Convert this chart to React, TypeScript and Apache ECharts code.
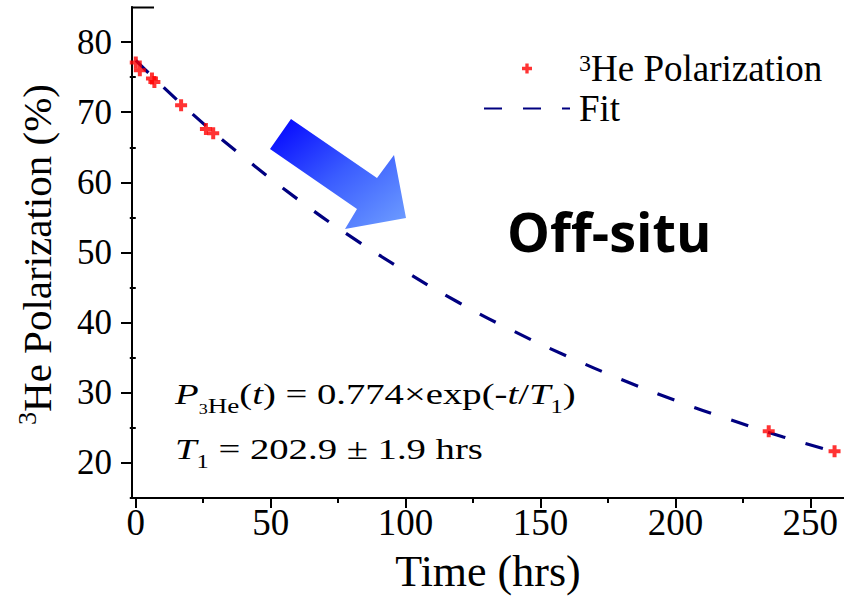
import React, { useEffect, useRef } from "react";
import * as echarts from "echarts";

// Measured data points (hrs, %)
const timeHrs = [0, 1.5, 6.0, 6.9, 16.8, 26.0, 28.7, 234.6, 259.0];
const polarization = [77.1, 76.0, 74.8, 74.3, 71.0, 67.6, 67.0, 24.5, 21.65];

// Fit curve (hrs, %)
const fitTime = [0, 20, 40, 60, 80, 100, 120, 140, 160, 180, 200, 220, 240, 260];
const fitValue = [77.4, 70.1, 63.6, 57.6, 52.2, 47.3, 42.8, 38.8, 35.2, 31.9, 28.9, 26.2, 23.7, 21.5];

// Axis ticks
const xTicks = [0, 50, 100, 150, 200, 250];
const xMinorTicks = [25, 75, 125, 175, 225];
const yTicks = [20, 30, 40, 50, 60, 70, 80];
const yMinorTicks = [15, 25, 35, 45, 55, 65, 75];

const SERIF = "'Liberation Serif', 'Times New Roman', serif";

export default function App() {
  const ref = useRef<HTMLDivElement>(null);

  useEffect(() => {
    if (!ref.current) return;
    const chart = echarts.init(ref.current, undefined, { renderer: "svg" });

    const axisLineStyle = { color: "#000", width: 2 };
    const xMin = -1.4, xMax = 262.5, yMin = 15, yMax = 85;

    const option: any = {
      animation: false,
      backgroundColor: "#fff",
      grid: { left: 132, top: 7, right: 0, bottom: 98, outerBoundsMode: "none", containLabel: false },
      legend: {
        show: true,
        orient: "vertical",
        left: 478,
        top: 45,
        itemWidth: 86,
        itemHeight: 10,
        itemGap: 3,
        data: [
          { name: "3He Polarization" },
          { name: "Fit", itemStyle: { color: "rgba(0,0,0,0)", borderWidth: 0, opacity: 0 } },
        ],
        formatter: (name: string) =>
          name === "3He Polarization" ? "{sup|3}{t|He Polarization}" : "{t|" + name + "}",
        textStyle: {
          color: "#000",
          fontFamily: SERIF,
          fontSize: 37,
          padding: [0, 0, 0, 4],
          rich: {
            t: { fontFamily: SERIF, fontSize: 37, lineHeight: 36, color: "#000" },
            sup: { fontFamily: SERIF, fontSize: 24, lineHeight: 20, verticalAlign: "top", color: "#000" },
          },
        },
      },
      xAxis: [
        {
          type: "value",
          min: xMin,
          max: xMax,
          position: "bottom",
          axisLine: { show: true, onZero: false, lineStyle: axisLineStyle },
          axisTick: { show: true, length: 10, lineStyle: axisLineStyle, customValues: xTicks },
          axisLabel: {
            customValues: xTicks,
            fontFamily: SERIF,
            fontSize: 37,
            lineHeight: 34,
            color: "#000",
            margin: 7,
          },
          splitLine: { show: false },
          name: "Time (hrs)",
          nameLocation: "middle",
          nameGap: 53,
          nameMoveOverlap: false,
          nameTextStyle: { fontFamily: SERIF, fontSize: 44, lineHeight: 40, color: "#000" },
        },
        {
          type: "value",
          min: xMin,
          max: xMax,
          position: "bottom",
          axisLine: { show: false },
          axisTick: { show: true, length: 5, lineStyle: axisLineStyle, customValues: xMinorTicks },
          axisLabel: { show: false },
          splitLine: { show: false },
        },
      ],
      yAxis: [
        {
          type: "value",
          min: yMin,
          max: yMax,
          position: "left",
          axisLine: { show: true, onZero: false, lineStyle: axisLineStyle },
          axisTick: { show: true, length: 11, lineStyle: axisLineStyle, customValues: yTicks },
          axisLabel: {
            customValues: yTicks,
            fontFamily: SERIF,
            fontSize: 35,
            color: "#000",
            margin: 20,
          },
          splitLine: { show: false },
          name: "{sup|3}{t|He Polarization (%)}",
          nameLocation: "middle",
          nameGap: 72,
          nameMoveOverlap: false,
          nameTextStyle: {
            fontFamily: SERIF,
            fontSize: 41,
            color: "#000",
            padding: [0, 4, 0, 0],
            rich: {
              t: { fontFamily: SERIF, fontSize: 41, lineHeight: 46, color: "#000" },
              sup: { fontFamily: SERIF, fontSize: 26, lineHeight: 22, verticalAlign: "top", color: "#000" },
            },
          },
        },
        {
          type: "value",
          min: yMin,
          max: yMax,
          position: "left",
          axisLine: { show: false },
          axisTick: { show: true, length: 6, lineStyle: axisLineStyle, customValues: yMinorTicks },
          axisLabel: { show: false },
          splitLine: { show: false },
        },
      ],
      series: [
        {
          name: "3He Polarization",
          type: "scatter",
          xAxisIndex: 0,
          yAxisIndex: 0,
          symbol: "path://M-1,-3H1V-1H3V1H1V3H-1V1H-3V-1H-1Z",
          symbolSize: 12,
          itemStyle: { color: "#ff0000" },
          z: 5,
          data: timeHrs.map((t, i) => [t, polarization[i]]),
        },
        {
          name: "Fit",
          type: "line",
          xAxisIndex: 0,
          yAxisIndex: 0,
          smooth: true,
          symbol: "none",
          showSymbol: false,
          lineStyle: { color: "#000080", width: 3.2, type: [18, 21] },
          itemStyle: { color: "#000080" },
          z: 3,
          data: fitTime.map((t, i) => [t, fitValue[i]]),
        },
      ],
      graphic: [
        {
          type: "line",
          shape: { x1: 131, y1: 7.5, x2: 154, y2: 7.5 },
          style: { stroke: "#000", lineWidth: 2 },
        },
        {
          type: "polygon",
          shape: {
            points: [
              [291, 119],
              [377, 178],
              [394, 155],
              [406, 218],
              [345, 229],
              [357, 209],
              [270, 149],
            ],
          },
          style: {
            fill: {
              type: "linear",
              x: 0,
              y: 0,
              x2: 1,
              y2: 1,
              colorStops: [
                { offset: 0, color: "#0000ff" },
                { offset: 0.5, color: "#3a5cff" },
                { offset: 1, color: "#70a0ff" },
              ],
            },
          },
        },
        {
          type: "text",
          x: 507,
          y: 231,
          style: {
            text: "Off-situ",
            fontFamily: "'Open Sans', 'Noto Sans', sans-serif",
            fontWeight: "bold",
            fontSize: 54,
            fill: "#000",
            verticalAlign: "middle",
            align: "left",
          },
        },
        {
          type: "text",
          x: 175,
          y: 372,
          scaleX: 1.29,
          style: {
            text: "{i|P}{s3|3}{sHe|He}{n|(}{i|t}{n|) = 0.774×exp(-}{i|t}{n|/}{i|T}{s1|1}{n|)}",
            fontFamily: SERIF,
            fontSize: 30,
            fill: "#000",
            align: "left",
            verticalAlign: "top",
            rich: {
              n: { fontFamily: SERIF, fontSize: 30, lineHeight: 44, fill: "#000" },
              i: { fontFamily: SERIF, fontSize: 30, fontStyle: "italic", lineHeight: 44, fill: "#000" },
              sHe: { fontFamily: SERIF, fontSize: 21, lineHeight: 20, verticalAlign: "bottom", fill: "#000" },
              s3: { fontFamily: SERIF, fontSize: 14, lineHeight: 34, verticalAlign: "bottom", fill: "#000" },
              s1: { fontFamily: SERIF, fontSize: 19, lineHeight: 20, verticalAlign: "bottom", fill: "#000" },
            },
          },
        },
        {
          type: "text",
          x: 175,
          y: 427,
          scaleX: 1.29,
          style: {
            text: "{i|T}{s1|1}{n| = 202.9 ± 1.9 hrs}",
            fontFamily: SERIF,
            fontSize: 30,
            fill: "#000",
            align: "left",
            verticalAlign: "top",
            rich: {
              n: { fontFamily: SERIF, fontSize: 30, lineHeight: 44, fill: "#000" },
              i: { fontFamily: SERIF, fontSize: 30, fontStyle: "italic", lineHeight: 44, fill: "#000" },
              s1: { fontFamily: SERIF, fontSize: 19, lineHeight: 20, verticalAlign: "bottom", fill: "#000" },
            },
          },
        },
      ],
    };

    chart.setOption(option);
    return () => chart.dispose();
  }, []);

  return (
    <div
      ref={ref}
      style={{ position: "fixed", left: 0, top: 0, width: 844, height: 596, background: "#fff" }}
    />
  );
}
